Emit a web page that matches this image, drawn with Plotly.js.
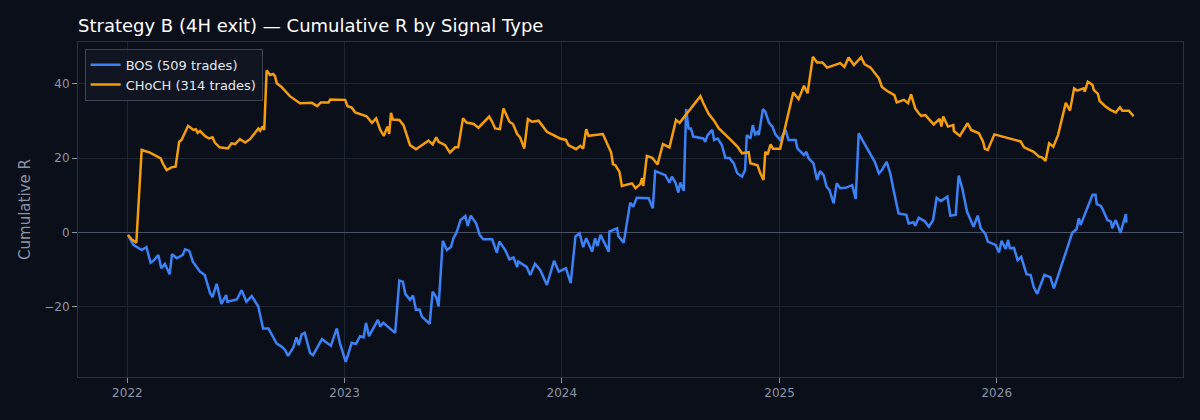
<!DOCTYPE html>
<html>
<head>
<meta charset="utf-8">
<script src="https://cdn.plot.ly/plotly-3.0.1.min.js"></script>
<style>
  html, body { margin: 0; padding: 0; background: #0b0f19; }
  #chart { width: 1200px; height: 420px; }
</style>
</head>
<body>
<div id="chart"></div>
<script>
// Данные
const CHART_ELEM_ID = "chart";

const seriesNames = ["BOS (509 trades)", "CHoCH (314 trades)"];

const bosDates = [
  "2022-01-02", "2022-01-11", "2022-01-25", "2022-02-02", "2022-02-09", "2022-02-15",
  "2022-02-22", "2022-02-27", "2022-03-05", "2022-03-13", "2022-03-17", "2022-03-25",
  "2022-04-04", "2022-04-08", "2022-04-15", "2022-04-21", "2022-05-03", "2022-05-11",
  "2022-05-20", "2022-05-24", "2022-05-31", "2022-06-08", "2022-06-16", "2022-06-18",
  "2022-07-04", "2022-07-12", "2022-07-20", "2022-07-29", "2022-08-09", "2022-08-17",
  "2022-08-26", "2022-09-09", "2022-09-17", "2022-09-23", "2022-09-28", "2022-10-07",
  "2022-10-12", "2022-10-16", "2022-10-21", "2022-10-26", "2022-11-04", "2022-11-09",
  "2022-11-24", "2022-12-09", "2022-12-19", "2022-12-24",
  "2023-01-03", "2023-01-13", "2023-01-20", "2023-01-27", "2023-02-02", "2023-02-06",
  "2023-02-11", "2023-02-26", "2023-03-02", "2023-03-07", "2023-03-27", "2023-04-03",
  "2023-04-09", "2023-04-13", "2023-04-21", "2023-04-26", "2023-05-01", "2023-05-07",
  "2023-05-11", "2023-05-24", "2023-05-29", "2023-06-04", "2023-06-08", "2023-06-15",
  "2023-06-22", "2023-06-29", "2023-07-03", "2023-07-08", "2023-07-15", "2023-07-23",
  "2023-07-27", "2023-08-01", "2023-08-10", "2023-08-16", "2023-08-22", "2023-09-06",
  "2023-09-14", "2023-09-18", "2023-09-28", "2023-10-05", "2023-10-12", "2023-10-18",
  "2023-10-20", "2023-11-03", "2023-11-09", "2023-11-17", "2023-11-26", "2023-12-07",
  "2023-12-19", "2023-12-27",
  "2024-01-08", "2024-01-16", "2024-01-24", "2024-01-31", "2024-02-06", "2024-02-11",
  "2024-02-21", "2024-02-26", "2024-03-01", "2024-03-06", "2024-03-20", "2024-03-21",
  "2024-04-03", "2024-04-05", "2024-04-14", "2024-04-22", "2024-04-25", "2024-04-30",
  "2024-05-06", "2024-05-26", "2024-06-02", "2024-06-06", "2024-06-23", "2024-06-30",
  "2024-07-04", "2024-07-10", "2024-07-15", "2024-07-18", "2024-07-24", "2024-07-28",
  "2024-08-01", "2024-08-05", "2024-08-09", "2024-08-26", "2024-08-29", "2024-09-02",
  "2024-09-10", "2024-09-13", "2024-09-19", "2024-09-26", "2024-10-02", "2024-10-09",
  "2024-10-16", "2024-10-22", "2024-10-30", "2024-11-04", "2024-11-07", "2024-11-13",
  "2024-11-17", "2024-11-21", "2024-11-25", "2024-11-27", "2024-12-04", "2024-12-08",
  "2024-12-14", "2024-12-20", "2024-12-25",
  "2025-01-02", "2025-01-11", "2025-01-16", "2025-01-28", "2025-01-31", "2025-02-11",
  "2025-02-15", "2025-02-19", "2025-02-27", "2025-03-05", "2025-03-10", "2025-03-16",
  "2025-03-21", "2025-03-26", "2025-03-30", "2025-04-02", "2025-04-07", "2025-04-13",
  "2025-04-22", "2025-05-03", "2025-05-09", "2025-05-14", "2025-05-20", "2025-05-28",
  "2025-06-10", "2025-06-17", "2025-06-22", "2025-06-30", "2025-07-06", "2025-07-11",
  "2025-07-20", "2025-08-02", "2025-08-06", "2025-08-14", "2025-08-17", "2025-08-23",
  "2025-09-02", "2025-09-09", "2025-09-16", "2025-09-22", "2025-09-29", "2025-10-10",
  "2025-10-15", "2025-10-24", "2025-10-29", "2025-11-04", "2025-11-12", "2025-11-23",
  "2025-11-30", "2025-12-05", "2025-12-13", "2025-12-17", "2025-12-30",
  "2026-01-05", "2026-01-09", "2026-01-16", "2026-01-20", "2026-01-23", "2026-01-30",
  "2026-02-05", "2026-02-11", "2026-02-20", "2026-02-27", "2026-03-04", "2026-03-10",
  "2026-03-22", "2026-04-01", "2026-04-07", "2026-05-08", "2026-05-15", "2026-05-19",
  "2026-05-22", "2026-06-11", "2026-06-16", "2026-06-18", "2026-06-25", "2026-06-28",
  "2026-07-06", "2026-07-12", "2026-07-14", "2026-07-20", "2026-07-28", "2026-08-06",
  "2026-08-07",
];

const bosValues = [
  -0.7, -3.4, -4.8, -4.0, -8.2, -7.5,
  -6.1, -9.7, -8.5, -11.3, -5.9, -7.0,
  -6.1, -4.6, -5.0, -7.9, -10.6, -11.5,
  -16.4, -17.5, -13.9, -19.3, -16.9, -18.7,
  -18.1, -15.6, -18.7, -17.2, -20.0, -25.9,
  -25.9, -30.0, -30.8, -31.7, -33.3, -31.0,
  -28.3, -30.4, -27.5, -27.1, -32.5, -33.1,
  -28.8, -30.6, -25.9, -29.8,
  -34.9, -29.8, -30.1, -28.0, -28.3, -24.4,
  -28.0, -23.6, -25.4, -24.4, -27.1, -13.0,
  -13.3, -16.6, -18.2, -17.0, -20.9, -20.8,
  -22.7, -24.7, -16.0, -17.5, -20.0, -2.3,
  -4.8, -3.9, -1.6, -0.1, 3.3, 4.4,
  1.7, 4.5, 2.4, -0.7, -1.9, -1.9,
  -5.5, -2.5, -4.8, -7.3, -6.8, -9.4,
  -7.9, -9.3, -11.5, -8.5, -10.2, -14.2,
  -7.7, -10.6,
  -9.7, -13.7, -1.1, -0.3, -4.0, -1.6,
  -5.2, -1.6, -3.7, -0.7, -5.2, 0.2,
  1.1, -1.0, -2.8, 5.6, 8.0, 6.9,
  9.3, 9.2, 6.5, 16.5, 15.4, 13.4,
  15.0, 13.4, 10.7, 13.4, 11.2, 33.2,
  28.0, 28.0, 25.8, 25.3, 24.4, 26.2,
  27.6, 24.9, 25.3, 23.5, 20.0, 20.0,
  18.6, 15.9, 15.0, 16.8, 26.2, 25.3,
  28.9, 26.4, 27.0, 26.2, 33.2, 32.5,
  29.6, 28.5, 26.4,
  24.9, 27.6, 24.9, 24.9, 22.6, 20.8,
  21.7, 19.9, 18.6, 14.1, 16.5, 15.4,
  12.3, 11.4, 9.3, 7.8, 13.2, 11.9,
  12.0, 12.7, 9.0, 26.7, 24.9, 22.6,
  19.0, 15.9, 16.8, 19.0, 15.9, 11.9,
  5.1, 4.7, 2.4, 2.7, 1.8, 3.9,
  3.0, 1.5, 3.3, 9.3, 8.4, 9.6,
  4.5, 4.7, 15.3, 11.9, 5.6, 1.5,
  4.5, 1.1, -0.5, -2.5, -3.4,
  -5.4, -2.3, -4.5, -2.1, -4.3, -4.2,
  -7.5, -6.6, -11.3, -11.5, -14.7, -16.6,
  -11.5, -12.1, -15.1, -0.1, 0.8, 3.8,
  2.0, 10.1, 10.1, 7.6, 7.1, 6.2,
  3.3, 2.9, 1.1, 3.3, -0.1, 4.9,
  2.6,
];

const chochDates = [
  "2022-01-02", "2022-01-08", "2022-01-16", "2022-01-25", "2022-02-08", "2022-02-19",
  "2022-02-26", "2022-03-02", "2022-03-08", "2022-03-16", "2022-03-23", "2022-03-29",
  "2022-04-02", "2022-04-13", "2022-04-22", "2022-04-26", "2022-04-29", "2022-05-03",
  "2022-05-11", "2022-05-18", "2022-05-24", "2022-05-28", "2022-06-05", "2022-06-19",
  "2022-06-25", "2022-07-01", "2022-07-09", "2022-07-18", "2022-07-26", "2022-08-03",
  "2022-08-09", "2022-08-12", "2022-08-16", "2022-08-19", "2022-08-23", "2022-08-29",
  "2022-09-03", "2022-09-06", "2022-09-09", "2022-09-17", "2022-10-01", "2022-10-18",
  "2022-11-07", "2022-11-16", "2022-11-22", "2022-12-05", "2022-12-08",
  "2023-01-02", "2023-01-06", "2023-01-13", "2023-01-19", "2023-02-07", "2023-02-16",
  "2023-02-23", "2023-03-02", "2023-03-08", "2023-03-14", "2023-03-17", "2023-03-20",
  "2023-03-23", "2023-04-03", "2023-04-10", "2023-04-16", "2023-04-21", "2023-05-01",
  "2023-05-22", "2023-05-29", "2023-06-04", "2023-06-08", "2023-06-19", "2023-06-27",
  "2023-07-06", "2023-07-11", "2023-07-19", "2023-07-25", "2023-08-06", "2023-08-14",
  "2023-09-01", "2023-09-06", "2023-09-11", "2023-09-19", "2023-09-25", "2023-09-30",
  "2023-10-05", "2023-10-11", "2023-10-18", "2023-10-23", "2023-10-30", "2023-11-05",
  "2023-11-12", "2023-11-23", "2023-12-07", "2023-12-29",
  "2024-01-08", "2024-01-12", "2024-01-25", "2024-02-01", "2024-02-06", "2024-02-11",
  "2024-02-15", "2024-03-10", "2024-03-17", "2024-03-24", "2024-03-27", "2024-03-31",
  "2024-04-07", "2024-04-11", "2024-04-28", "2024-05-04", "2024-05-12", "2024-05-15",
  "2024-05-17", "2024-05-23", "2024-06-01", "2024-06-10", "2024-06-19", "2024-06-30",
  "2024-07-11", "2024-07-17", "2024-08-21", "2024-08-26", "2024-09-04", "2024-09-12",
  "2024-09-21", "2024-09-30", "2024-10-13", "2024-10-22", "2024-10-30", "2024-11-10",
  "2024-11-13", "2024-11-25", "2024-11-29", "2024-12-05", "2024-12-08", "2024-12-12",
  "2024-12-17", "2024-12-21",
  "2025-01-02", "2025-01-24", "2025-02-02", "2025-02-11", "2025-02-17", "2025-02-26",
  "2025-03-05", "2025-03-14", "2025-03-22", "2025-04-13", "2025-04-20", "2025-04-27",
  "2025-05-06", "2025-05-18", "2025-05-24", "2025-06-03", "2025-06-11", "2025-06-17",
  "2025-06-22", "2025-07-01", "2025-07-13", "2025-07-17", "2025-07-29", "2025-08-05",
  "2025-08-10", "2025-08-17", "2025-08-23", "2025-08-27", "2025-09-03", "2025-09-17",
  "2025-09-27", "2025-09-30", "2025-10-03", "2025-10-11", "2025-10-20", "2025-10-21",
  "2025-10-31", "2025-11-13", "2025-11-19", "2025-12-02", "2025-12-09", "2025-12-12",
  "2025-12-17", "2025-12-28",
  "2026-02-10", "2026-02-16", "2026-03-04", "2026-03-13", "2026-03-18", "2026-03-24",
  "2026-03-30", "2026-04-06", "2026-04-14", "2026-04-27", "2026-05-04", "2026-05-11",
  "2026-05-16", "2026-05-27", "2026-05-29", "2026-06-03", "2026-06-11", "2026-06-13",
  "2026-06-20", "2026-06-23", "2026-07-03", "2026-07-11", "2026-07-20", "2026-07-27",
  "2026-07-31", "2026-08-11", "2026-08-19",
];

const chochValues = [
  -0.7, -1.9, -2.8, 22.2, 21.5, 20.6,
  19.9, 18.4, 16.8, 17.5, 17.7, 24.4,
  24.9, 28.7, 27.6, 27.8, 26.8, 27.3,
  26.0, 25.3, 25.6, 24.2, 22.9, 22.6,
  24.0, 23.8, 25.1, 24.2, 25.1, 26.7,
  28.0, 27.4, 28.5, 27.6, 43.6, 42.4,
  42.7, 42.1, 40.2, 39.2, 36.7, 34.8,
  34.9, 34.0, 35.0, 35.0, 35.8,
  35.7, 34.0, 33.6, 32.3, 31.3, 29.5,
  30.7, 27.6, 26.0, 28.5, 26.5, 32.2,
  30.4, 30.3, 28.9, 26.2, 23.5, 22.4,
  24.7, 23.7, 25.6, 24.4, 23.5, 21.5,
  22.9, 22.9, 30.7, 29.6, 29.2, 28.2,
  31.2, 29.8, 28.0, 27.8, 33.4, 31.6,
  29.8, 29.2, 26.5, 25.6, 22.6, 30.5,
  29.8, 30.1, 27.1, 25.3,
  24.9, 23.5, 22.4, 23.3, 22.6, 27.8,
  26.0, 26.5, 24.0, 21.5, 18.4, 18.1,
  16.3, 12.5, 13.2, 11.9, 13.0, 14.6,
  12.5, 20.6, 20.1, 18.3, 23.8, 22.9,
  30.3, 29.5, 36.7, 34.8, 31.9, 30.3,
  28.0, 26.7, 24.6, 23.1, 21.3, 21.6,
  18.6, 18.1, 16.2, 14.1, 21.7, 21.0,
  23.7, 22.5,
  22.5, 37.7, 35.9, 39.5, 37.5, 47.3,
  45.8, 45.8, 44.4, 45.6, 44.6, 47.1,
  45.1, 47.2, 45.3, 44.4, 42.6, 41.5,
  39.2, 38.1, 37.0, 35.0, 35.7, 34.8,
  37.2, 33.4, 32.1, 31.4, 31.6, 29.1,
  30.6, 28.5, 31.2, 28.5, 28.9, 27.3,
  26.0, 29.4, 27.6, 26.7, 24.4, 22.5,
  22.2, 26.4,
  24.5, 22.9, 21.7, 20.4, 20.2, 19.3,
  24.0, 23.1, 26.2, 34.9, 32.8, 38.8,
  38.2, 38.8, 37.9, 40.6, 39.7, 38.4,
  37.3, 35.4, 33.9, 33.0, 32.3, 33.7,
  32.8, 32.8, 31.3,
];

const seriesColors = ["#3b82f6", "#f59e0b"];

// Графики

const bosTrace = {
  x: bosDates,
  y: bosValues,
  name: seriesNames[0],
  mode: "lines",
  type: "scatter",
  line: { color: seriesColors[0], width: 2.5 },
};

const chochTrace = {
  x: chochDates,
  y: chochValues,
  name: seriesNames[1],
  mode: "lines",
  type: "scatter",
  line: { color: seriesColors[1], width: 2.5 },
};

const gridColor = "#1e2533";
const textColor = "#8b95a6";

const layout = {
  width: 1200,
  height: 420,
  paper_bgcolor: "#0b0f19",
  plot_bgcolor: "#0b0f19",
  font: { family: "DejaVu Sans, sans-serif", color: textColor, size: 12 },
  margin: { l: 78, r: 17, t: 42, b: 43 },
  title: {
    text: "Strategy B (4H exit) — Cumulative R by Signal Type",
    font: { size: 18, color: "#ffffff" },
    xref: "paper",
    x: 0,
    xanchor: "left",
    yref: "container",
    y: 0.94,
    yanchor: "middle",
  },
  showlegend: true,
  legend: {
    x: 0.006,
    y: 0.98,
    xanchor: "left",
    yanchor: "top",
    bgcolor: "rgba(17,22,34,0.9)",
    bordercolor: "#3c4454",
    borderwidth: 1,
    font: { color: "#e5e7eb", size: 13 },
  },
  xaxis: {
    type: "date",
    range: ["2021-10-10", "2026-11-10"],
    dtick: "M12",
    tickformat: "%Y",
    ticks: "outside",
    ticklen: 5,
    tickcolor: textColor,
    gridcolor: gridColor,
    showline: true,
    linecolor: "#2a3240",
    mirror: true,
    zeroline: false,
  },
  yaxis: {
    range: [-39, 51.3],
    dtick: 20,
    ticks: "outside",
    ticklen: 5,
    tickcolor: textColor,
    gridcolor: gridColor,
    showline: true,
    linecolor: "#2a3240",
    mirror: true,
    zeroline: true,
    zerolinecolor: "#4a5366",
    zerolinewidth: 1,
    title: {
      text: "Cumulative R",
      font: { size: 15, color: textColor },
      standoff: 10,
    },
  },
};

const config = { responsive: false, displayModeBar: false };

Plotly.newPlot(CHART_ELEM_ID, [bosTrace, chochTrace], layout, config);
</script>
</body>
</html>
